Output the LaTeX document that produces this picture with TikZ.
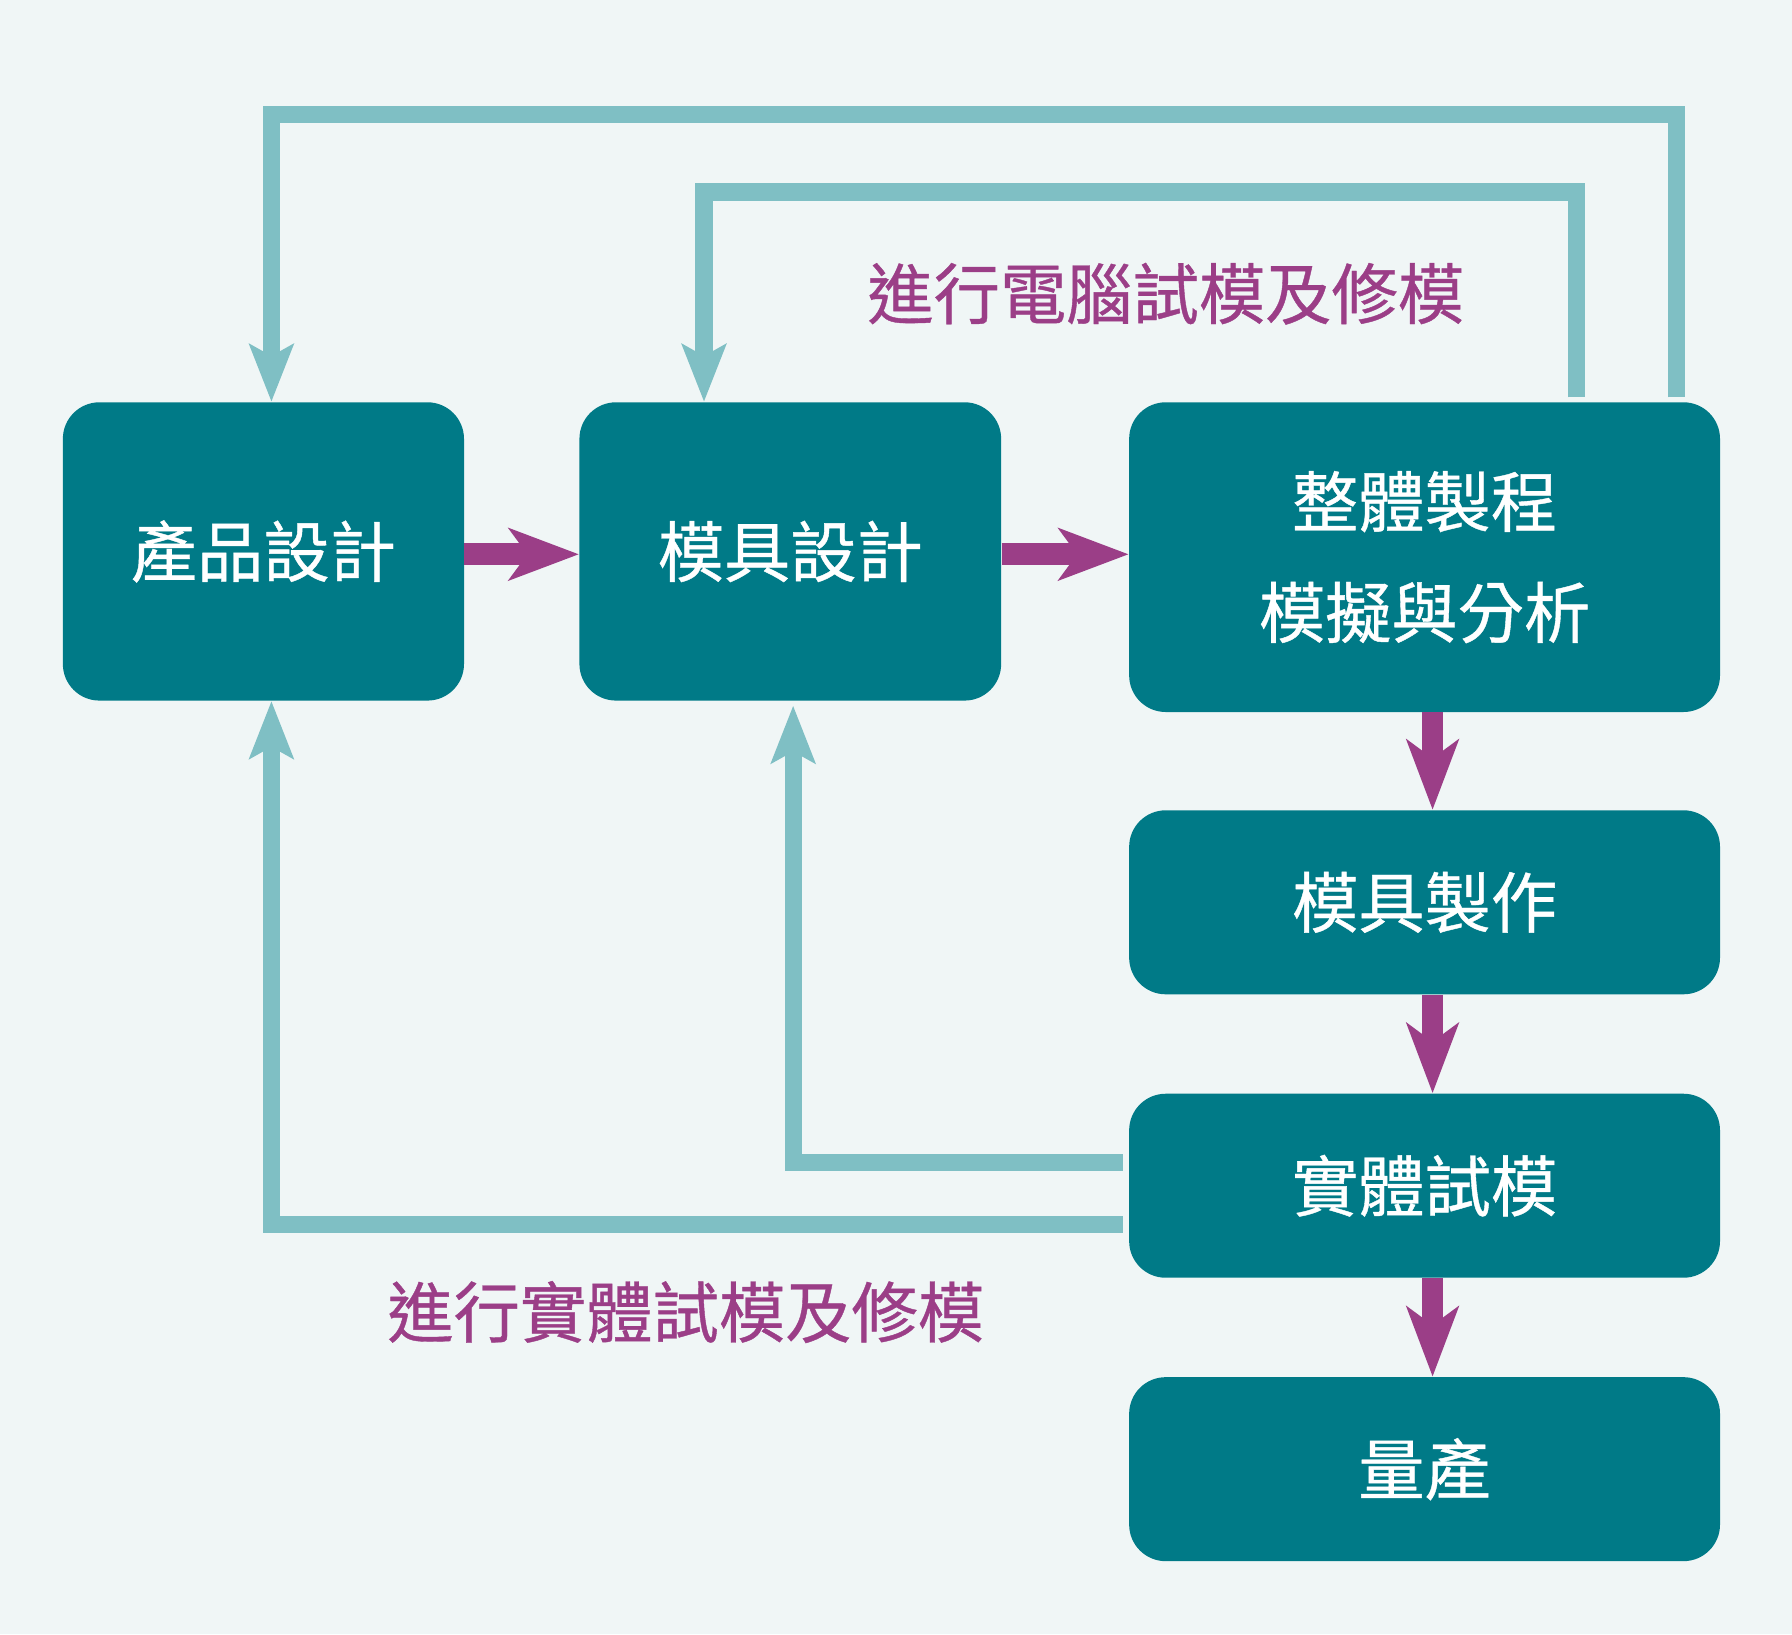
\documentclass[tikz,border=0pt]{standalone}
\usepackage{fontspec}
\setmainfont{Noto Sans CJK TC}
\newfontfamily\cjkmed{Noto Sans CJK TC}[FakeBold=0.6]
\usetikzlibrary{arrows.meta}
\definecolor{bgc}{HTML}{F0F6F6}
\definecolor{boxc}{HTML}{007A87}
\definecolor{lightc}{HTML}{7FBFC4}
\definecolor{purc}{HTML}{9B3E87}
\begin{document}
\begin{tikzpicture}[x=0.5pt,y=-0.5pt,
  box/.style={fill=boxc, rounded corners=16pt, inner sep=0pt, text=white,
    font=\cjkmed\fontsize{29pt}{48.5pt}\selectfont, align=center},
  fb/.style={draw=lightc, line width=7.5pt, line join=miter,
    -{Stealth[length=25pt,width=19pt,inset=5pt]}},
  fw/.style={draw=purc, line width=9.5pt,
    -{Stealth[length=30.5pt,width=22.5pt,inset=8pt]}},
  lbl/.style={text=purc, font=\cjkmed\fontsize{29pt}{35pt}\selectfont}]
\useasboundingbox[fill=bgc] (0,0) rectangle (1568,1430);
% boxes
\node[box, minimum width=175.5pt, minimum height=130.5pt] (n1) at (230.5,482.5) {產品設計};
\node[box, minimum width=184.5pt, minimum height=130.5pt] (n2) at (691.5,482.5) {模具設計};
\node[box, minimum width=258.5pt, minimum height=135.5pt] (n3) at (1246.5,487.5) {整體製程\\模擬與分析};
\node[box, minimum width=258.5pt, minimum height=80.5pt] (n4) at (1246.5,789.5) {模具製作};
\node[box, minimum width=258.5pt, minimum height=80.5pt] (n5) at (1246.5,1037.5) {實體試模};
\node[box, minimum width=258.5pt, minimum height=80.5pt] (n6) at (1246.5,1285.5) {量產};
% labels
\node[lbl] (l1) at (1020,257) {進行電腦試模及修模};
\node[lbl] (l2) at (600,1148) {進行實體試模及修模};
% purple flow arrows
\coordinate (vx) at (1253.5,0);
\coordinate (hy) at (0,485);
\draw[fw] (n1.east |- hy) -- (n2.west |- hy);
\draw[fw] (n2.east |- hy) -- (n3.west |- hy);
\draw[fw] (n3.south -| vx) -- (n4.north -| vx);
\draw[fw] (n4.south -| vx) -- (n5.north -| vx);
\draw[fw] (n5.south -| vx) -- (n6.north -| vx);
% feedback loops (top)
\coordinate (n3top) at ([yshift=2pt]n3.north);
\coordinate (a1) at (1467,100);
\coordinate (a2) at (237.5,100);
\coordinate (c1) at (1379.5,168);
\coordinate (c2) at (616,168);
\draw[fb] (n3top -| a1) -- (a1) -- (a2) -- (a2 |- n1.north);
\draw[fb] (n3top -| c1) -- (c1) -- (c2) -- (c2 |- n2.north);
% feedback loops (bottom)
\coordinate (n5w) at ([xshift=-2.5pt]n5.west);
\coordinate (n2bot) at ([yshift=-2pt]n2.south);
\coordinate (b1) at (237.5,1071.5);
\coordinate (b2) at (694,1017.5);
\draw[fb] (n5w |- b2) -- (b2) -- (b2 |- n2bot);
\draw[fb] (n5w |- b1) -- (b1) -- (b1 |- n1.south);
\end{tikzpicture}
\end{document}
